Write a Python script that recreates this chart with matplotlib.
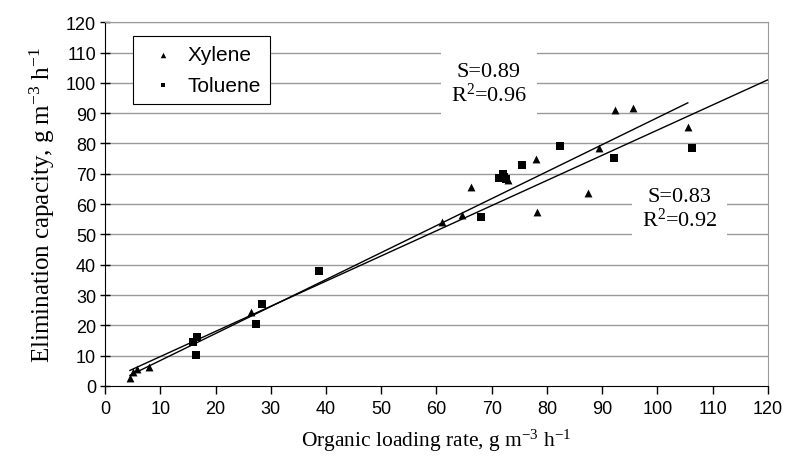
import matplotlib
matplotlib.use("Agg")
import matplotlib.pyplot as plt
import numpy as np

plt.rcParams['mathtext.fontset'] = 'custom'
plt.rcParams['mathtext.rm'] = 'Liberation Serif'
plt.rcParams['mathtext.it'] = 'Liberation Serif:italic'

# Data
xylene_x = [4.5, 5.0, 5.7, 8.0, 26.4, 61.0, 64.7, 66.2, 72.5, 73.0, 78.0, 78.2, 87.5, 89.4, 92.4, 95.6, 105.5]
xylene_y = [2.6, 4.5, 5.6, 6.3, 24.3, 54.2, 56.4, 65.8, 69.0, 68.0, 75.0, 57.4, 63.6, 78.4, 91.1, 91.8, 85.5]
toluene_x = [16.0, 16.5, 16.7, 27.3, 28.5, 38.7, 68.0, 71.3, 72.0, 72.3, 72.6, 75.5, 82.4, 92.2, 106.2]
toluene_y = [14.4, 10.2, 16.0, 20.3, 27.0, 38.0, 55.7, 68.6, 70.0, 69.0, 68.3, 72.8, 79.0, 75.2, 78.6]

fit1_slope, fit1_int, fit1_range = 0.89, -0.5, (4.5, 105.5)
fit2_slope, fit2_int, fit2_range = 0.83, 1.4, (4.5, 120.0)

xticks = list(range(0, 121, 10))
yticks = list(range(0, 121, 10))

fig = plt.figure(figsize=(7.9, 4.64), dpi=100)
ax = fig.add_axes([0.133, 0.166, 0.839, 0.784])

ax.set_xlim(0, 120)
ax.set_ylim(0, 120)
ax.set_xticks(xticks)
ax.set_yticks(yticks)

for yv in yticks[1:]:
    ax.axhline(yv, color='#9a9a9a', lw=1.0, zorder=0)

ax.scatter(xylene_x, xylene_y, marker='^', s=32, color='black', zorder=4, label='Xylene', linewidths=0)
ax.scatter(toluene_x, toluene_y, marker='s', s=26, color='black', zorder=4, label='Toluene', linewidths=0)

for sl, ic, rng in [(fit1_slope, fit1_int, fit1_range), (fit2_slope, fit2_int, fit2_range)]:
    xs = np.array(rng)
    ax.plot(xs, sl * xs + ic, color='black', lw=1.0, zorder=3)

ax.text(69.5, 99.6, 'S=0.89\nR$^2$=0.96', ha='center', va='center', fontsize=16,
        family='Liberation Serif', linespacing=1.1, zorder=2,
        bbox=dict(facecolor='white', edgecolor='none', boxstyle='square,pad=0.45'))
ax.text(104, 58.3, 'S=0.83\nR$^2$=0.92', ha='center', va='center', fontsize=16,
        family='Liberation Serif', linespacing=1.1, zorder=2,
        bbox=dict(facecolor='white', edgecolor='none', boxstyle='square,pad=0.45'))

leg = ax.legend(loc='upper left', bbox_to_anchor=(0.042, 0.962), borderaxespad=0,
                frameon=True, fancybox=False, edgecolor='black', framealpha=1,
                prop={'family': 'Liberation Sans', 'size': 15}, handletextpad=0.15,
                borderpad=0.45, labelspacing=0.55, handlelength=2.0, scatterpoints=1,
                markerscale=0.7)
leg.get_frame().set_linewidth(0.8)
leg.set_zorder(5)

for lbl in ax.get_xticklabels() + ax.get_yticklabels():
    lbl.set_family('Liberation Sans')
    lbl.set_fontsize(13)
ax.tick_params(axis='x', direction='out', length=6, width=1, pad=4)
ax.tick_params(axis='y', direction='inout', length=7, width=1, pad=3)

ax.spines['left'].set_color('black')
ax.spines['bottom'].set_color('black')
ax.spines['right'].set_color('#9a9a9a')
ax.spines['top'].set_color('#9a9a9a')

ax.set_xlabel('Organic loading rate, g m$^{\\mathrm{-3}}$ h$^{\\mathrm{-1}}$', family='Liberation Serif',
              fontsize=15.5, labelpad=7)
ax.set_ylabel('Elimination capacity, g m$^{\\mathrm{-3}}$ h$^{\\mathrm{-1}}$', family='Liberation Serif',
              fontsize=18, labelpad=6)

fig.savefig('out.png', dpi=100)
